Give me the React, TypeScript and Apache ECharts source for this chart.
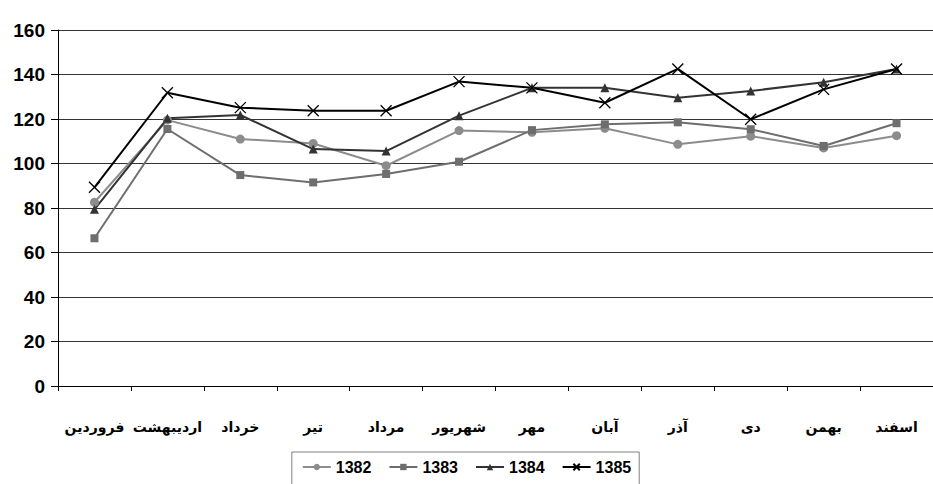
import React, { useEffect, useRef } from "react";
import * as echarts from "echarts";

const months = ["فروردین", "اردیبهشت", "خرداد", "تیر", "مرداد", "شهریور", "مهر", "آبان", "آذر", "دی", "بهمن", "اسفند"];
const s1382 = [82.6, 119.5, 111, 109, 99, 114.8, 114, 115.8, 108.6, 112.3, 107, 112.5];
const s1383 = [66.4, 115.5, 94.8, 91.5, 95.3, 100.8, 115, 117.6, 118.5, 115.4, 107.9, 118.1];
const s1384 = [79.4, 120.3, 121.8, 106.5, 105.6, 121.5, 134, 134, 129.6, 132.6, 136.5, 142.5];
const s1385 = [89.3, 131.8, 125.1, 123.7, 123.7, 136.8, 134, 127.3, 142.5, 119.9, 133.3, 142.5];
const seriesNames = ["1382", "1383", "1384", "1385"];
const yTicks = { min: 0, max: 160, interval: 20 };

const X_PATH = "path://M0,0L10,10M10,0L0,10";

export default function App() {
  const ref = useRef<HTMLDivElement>(null);
  useEffect(() => {
    if (!ref.current) return;
    const chart = echarts.init(ref.current, null, { renderer: "svg" });
    const font = "Arial, 'Liberation Sans', 'DejaVu Sans', sans-serif";
    chart.setOption({
      animation: false,
      backgroundColor: "#ffffff",
      textStyle: { fontFamily: font },
      grid: { left: 58, top: 30, width: 888, height: 356, containLabel: false },
      legend: {
        data: seriesNames,
        left: "center",
        top: 452,
        orient: "horizontal",
        borderColor: "#808080",
        borderWidth: 1,
        padding: [7, 8, 14, 10],
        itemWidth: 28,
        itemHeight: 8,
        itemGap: 17,
        textStyle: { fontSize: 16, fontWeight: "bold", color: "#000", fontFamily: font },
      },
      xAxis: {
        type: "category",
        data: months,
        boundaryGap: true,
        axisLine: { lineStyle: { color: "#000", width: 1 } },
        axisTick: { show: true, length: 5, lineStyle: { color: "#000" } },
        axisLabel: { interval: 0, margin: 34, fontSize: 14, fontWeight: "bold", color: "#000", fontFamily: font },
        splitLine: { show: false },
      },
      yAxis: {
        type: "value",
        min: yTicks.min,
        max: yTicks.max,
        interval: yTicks.interval,
        axisLine: { show: true, lineStyle: { color: "#000", width: 1 } },
        axisTick: { show: true, length: 7, lineStyle: { color: "#000" } },
        axisLabel: { margin: 13, fontSize: 19, fontWeight: "bold", color: "#000", fontFamily: font },
        splitLine: { show: true, lineStyle: { color: "#333333", width: 1 } },
      },
      series: [
        {
          name: "1382",
          type: "line",
          data: s1382,
          color: "#8c8c8c",
          symbol: "circle",
          symbolSize: 9,
          lineStyle: { width: 2, color: "#8c8c8c" },
          itemStyle: { color: "#8c8c8c" },
        },
        {
          name: "1383",
          type: "line",
          data: s1383,
          color: "#6e6e6e",
          symbol: "rect",
          symbolSize: 8,
          lineStyle: { width: 2, color: "#6e6e6e" },
          itemStyle: { color: "#6e6e6e" },
        },
        {
          name: "1384",
          type: "line",
          data: s1384,
          color: "#333333",
          symbol: "triangle",
          symbolSize: 9,
          lineStyle: { width: 2, color: "#333333" },
          itemStyle: { color: "#333333" },
        },
        {
          name: "1385",
          type: "line",
          data: s1385,
          color: "#000000",
          symbol: X_PATH,
          symbolSize: 11,
          lineStyle: { width: 2, color: "#000000" },
          itemStyle: { color: "#ffffff", borderColor: "#000000", borderWidth: 1.3 },
        },
      ],
    });
    return () => chart.dispose();
  }, []);
  return (
    <div
      ref={ref}
      style={{ position: "absolute", left: 0, top: 0, width: 933, height: 484 }}
    />
  );
}
